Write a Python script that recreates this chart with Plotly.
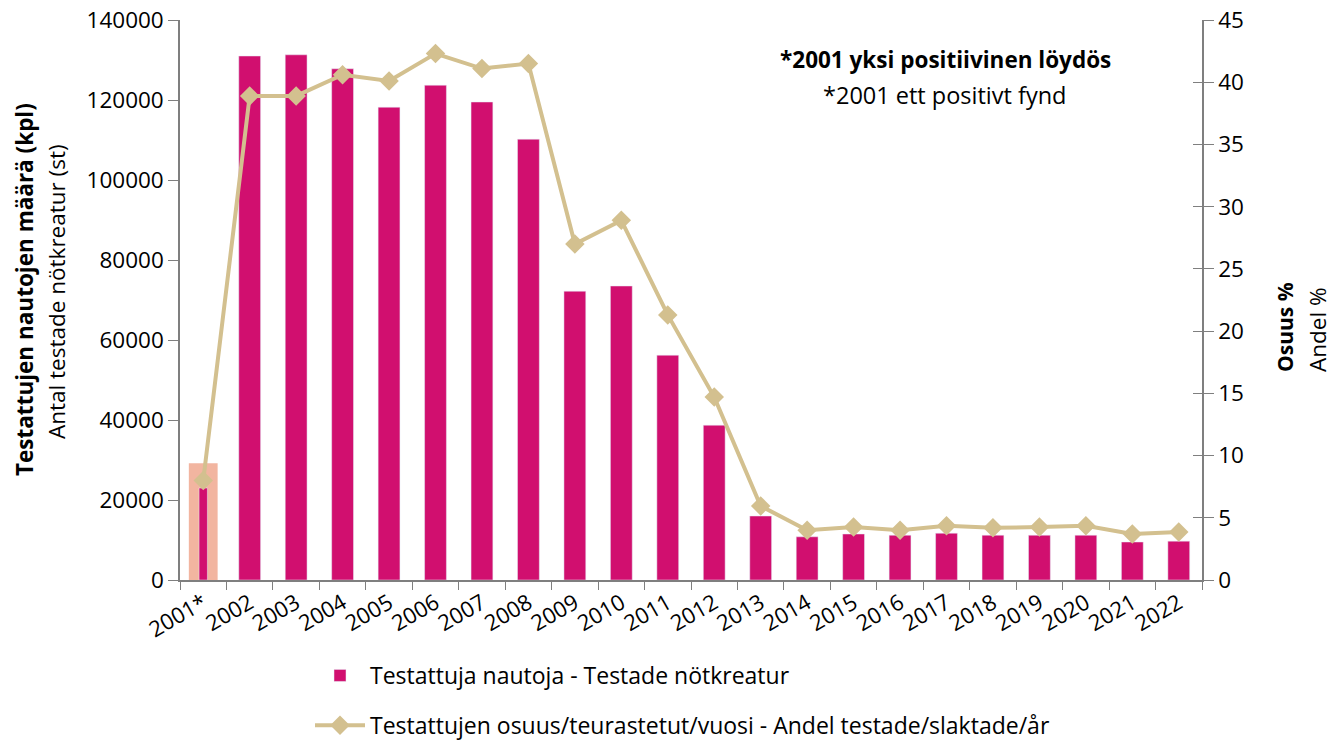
import plotly.graph_objects as go

years = ["2001*", "2002", "2003", "2004", "2005", "2006", "2007", "2008", "2009", "2010", "2011",
         "2012", "2013", "2014", "2015", "2016", "2017", "2018", "2019", "2020", "2021", "2022"]
tested = [23000, 131000, 131300, 127800, 118200, 123700, 119500, 110200, 72200, 73500, 56200,
          38700, 16000, 10800, 11500, 11200, 11700, 11200, 11200, 11200, 9500, 9700]
share = [8.0, 38.9, 38.9, 40.6, 40.1, 42.3, 41.1, 41.5, 27.0, 28.9, 21.3,
         14.7, 5.95, 4.0, 4.25, 4.0, 4.35, 4.2, 4.25, 4.35, 3.7, 3.85]

bar_color = "#D10F6F"
line_color = "#D3C08F"
axis_color = "#7F7F7F"
font_family = "'Open Sans', sans-serif"

widths = [0.18] + [0.47] * (len(years) - 1)

fig = go.Figure()
# highlight box behind 2001
fig.add_shape(type="rect", xref="x", yref="y", x0=-0.31, x1=0.31,
              y0=-500, y1=tested[0] * 1.27, fillcolor="#F2B5A0", line=dict(width=0),
              layer="below")
fig.add_trace(go.Bar(x=years, y=tested, width=widths, marker_color=bar_color,
                     name="Testattuja nautoja - Testade nötkreatur", legendgroup="a"))
fig.add_trace(go.Scatter(x=years, y=share, yaxis="y2", mode="lines+markers",
                         line=dict(color=line_color, width=4),
                         marker=dict(symbol="diamond", size=15, color=line_color),
                         name="Testattujen osuus/teurastetut/vuosi - Andel testade/slaktade/år",
                         legendgroup="b"))
fig.add_trace(go.Scatter(x=[years[0]], y=[None], yaxis="y3", showlegend=False, hoverinfo="skip"))

common_axis = dict(showline=True, linecolor=axis_color, linewidth=1.5, tickcolor=axis_color,
                   showgrid=False, zeroline=False, automargin=False)

fig.update_layout(
    width=1343, height=742,
    margin=dict(l=180, r=141, t=20, b=162, autoexpand=False),
    plot_bgcolor="white", paper_bgcolor="white",
    font=dict(family=font_family, size=22, color="#000000"),
    showlegend=True,
    legend=dict(orientation="v", xref="container", yref="container",
                x=310 / 1343, xanchor="left", y=1 - 654 / 742, yanchor="top",
                font=dict(size=23), tracegroupgap=17, itemwidth=50),
    xaxis=dict(type="category", range=[-0.5, len(years) - 0.5], tickangle=-30,
               tickson="boundaries", ticks="outside", ticklen=8,
               tickfont=dict(size=22), **common_axis),
    yaxis=dict(range=[0, 140000], dtick=20000, ticks="outside", ticklen=10,
               tickformat="d", tickfont=dict(size=22.5), **common_axis),
    yaxis2=dict(range=[0, 45], dtick=5, overlaying="y", side="right", ticks="outside",
                ticklen=10, tickfont=dict(size=22.5), **common_axis),
    yaxis3=dict(range=[0, 45], dtick=5, overlaying="y", side="right", ticks="inside",
                ticklen=9, showticklabels=False, **common_axis),
    annotations=[
        dict(text="<b>*2001 yksi positiivinen löydös</b>", xref="paper", yref="paper",
             x=(945 - 180) / 1022, y=1 - 40 / 560, xanchor="center", yanchor="middle",
             showarrow=False, font=dict(size=22.5)),
        dict(text="*2001 ett positivt fynd", xref="paper", yref="paper",
             x=(945 - 180) / 1022, y=1 - 75 / 560, xanchor="center", yanchor="middle",
             showarrow=False, font=dict(size=23.5)),
        dict(text="<b>Testattujen nautojen määrä (kpl)</b>", xref="paper", yref="paper",
             x=(24 - 180) / 1022, y=1 - 270 / 560, xanchor="center", yanchor="middle",
             textangle=-90, showarrow=False, font=dict(size=22.5)),
        dict(text="Antal testade nötkreatur (st)", xref="paper", yref="paper",
             x=(56 - 180) / 1022, y=1 - 272 / 560, xanchor="center", yanchor="middle",
             textangle=-90, showarrow=False, font=dict(size=22.5)),
        dict(text="<b>Osuus %</b>", xref="paper", yref="paper",
             x=(1285 - 180) / 1022, y=1 - 307 / 560, xanchor="center", yanchor="middle",
             textangle=-90, showarrow=False, font=dict(size=21)),
        dict(text="Andel %", xref="paper", yref="paper",
             x=(1317 - 180) / 1022, y=1 - 310 / 560, xanchor="center", yanchor="middle",
             textangle=-90, showarrow=False, font=dict(size=22.5)),
    ],
)

fig.write_html("out.html", config={"displayModeBar": False},
               post_script="document.body.style.margin='0px';")
